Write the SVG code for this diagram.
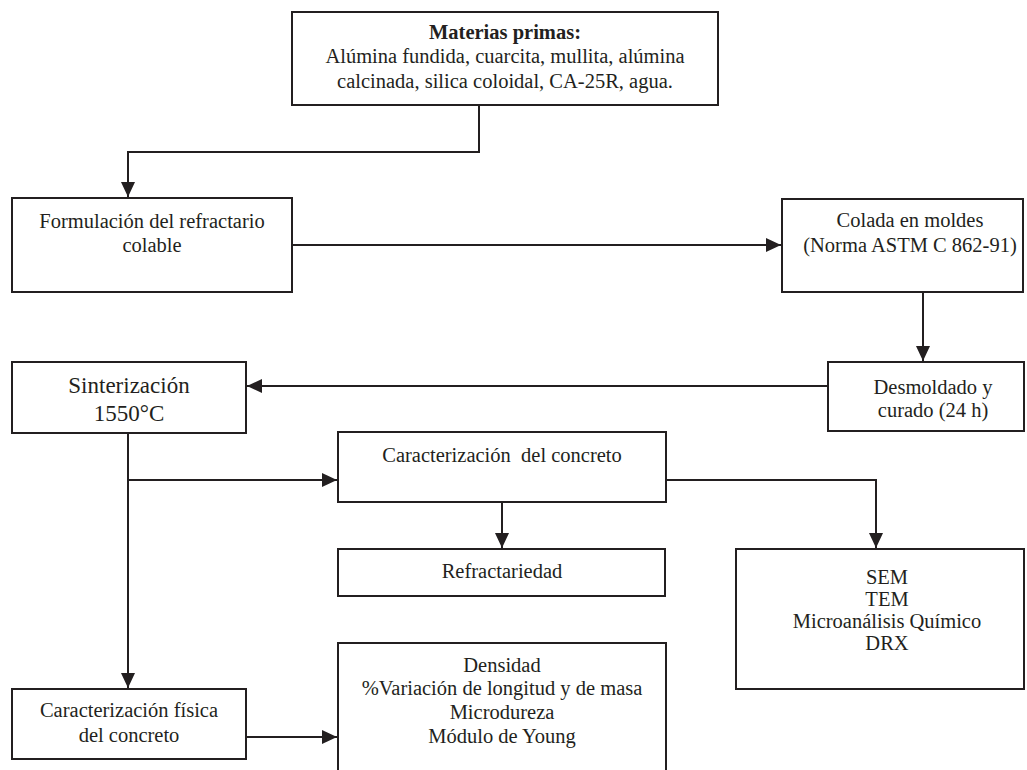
<svg xmlns="http://www.w3.org/2000/svg" width="1027" height="770" viewBox="0 0 1027 770">
<style>
.box{fill:#fff;stroke:#231f20;stroke-width:2}
.t{font-family:"Liberation Serif","Times New Roman",serif;font-size:20.5px;fill:#231f20;text-anchor:middle}
.big{font-size:23px}
.b{font-weight:bold}
.c{fill:none;stroke:#231f20;stroke-width:2}
</style>
<defs>
<marker id="ah" markerUnits="userSpaceOnUse" markerWidth="16" markerHeight="15" refX="15" refY="7" orient="auto">
<path d="M0,0 L15,7 L0,14 z" fill="#231f20"/>
</marker>
</defs>
<rect width="1027" height="770" fill="#fff"/>
<g id="connectors">
<path class="c" d="M479,105 V152 H128 V197" marker-end="url(#ah)"/>
<path class="c" d="M292,245 H781" marker-end="url(#ah)"/>
<path class="c" d="M923,292 V361" marker-end="url(#ah)"/>
<path class="c" d="M828,386 H247" marker-end="url(#ah)"/>
<path class="c" d="M128,433 V688" marker-end="url(#ah)"/>
<path class="c" d="M128,480 H337" marker-end="url(#ah)"/>
<path class="c" d="M502,502 V548" marker-end="url(#ah)"/>
<path class="c" d="M666,480 H876 V548" marker-end="url(#ah)"/>
<path class="c" d="M246,737 H337" marker-end="url(#ah)"/>
</g>
<g id="materias">
<rect class="box" x="292" y="12" width="426" height="93"/>
<text class="t b" x="505" y="39">Materias primas:</text>
<text class="t" x="505" y="63">Alúmina fundida, cuarcita, mullita, alúmina</text>
<text class="t" x="505" y="88">calcinada, silica coloidal, CA-25R, agua.</text>
</g>
<g id="formulacion">
<rect class="box" x="12" y="198" width="280" height="94"/>
<text class="t" x="152" y="228">Formulación del refractario</text>
<text class="t" x="152" y="252">colable</text>
</g>
<g id="colada">
<rect class="box" x="782" y="199" width="241" height="93"/>
<text class="t" x="910" y="227">Colada en moldes</text>
<text class="t" x="910" y="252">(Norma ASTM C 862-91)</text>
</g>
<g id="desmoldado">
<rect class="box" x="828" y="362" width="196" height="69"/>
<text class="t" x="933" y="394">Desmoldado y</text>
<text class="t" x="933" y="417">curado (24 h)</text>
</g>
<g id="sinterizacion">
<rect class="box" x="12" y="362" width="234" height="71"/>
<text class="t big" x="129" y="393">Sinterización</text>
<text class="t big" x="129" y="421">1550°C</text>
</g>
<g id="caracterizacion">
<rect class="box" x="338" y="432" width="328" height="70"/>
<text class="t" x="502" y="462">Caracterización&#160; del concreto</text>
</g>
<g id="refractariedad">
<rect class="box" x="338" y="549" width="327" height="47"/>
<text class="t" x="502" y="578">Refractariedad</text>
</g>
<g id="sem">
<rect class="box" x="736" y="549" width="288" height="140"/>
<text class="t" x="887" y="584">SEM</text>
<text class="t" x="887" y="606">TEM</text>
<text class="t" x="887" y="628">Microanálisis Químico</text>
<text class="t" x="887" y="650">DRX</text>
</g>
<g id="fisica">
<rect class="box" x="12" y="689" width="234" height="70"/>
<text class="t" x="129" y="717">Caracterización física</text>
<text class="t" x="129" y="742">del concreto</text>
</g>
<g id="densidad">
<rect class="box" x="338" y="643" width="328" height="140"/>
<text class="t" x="502" y="672">Densidad</text>
<text class="t" x="502" y="695">%Variación de longitud y de masa</text>
<text class="t" x="502" y="719">Microdureza</text>
<text class="t" x="502" y="743">Módulo de Young</text>
</g>
</svg>
